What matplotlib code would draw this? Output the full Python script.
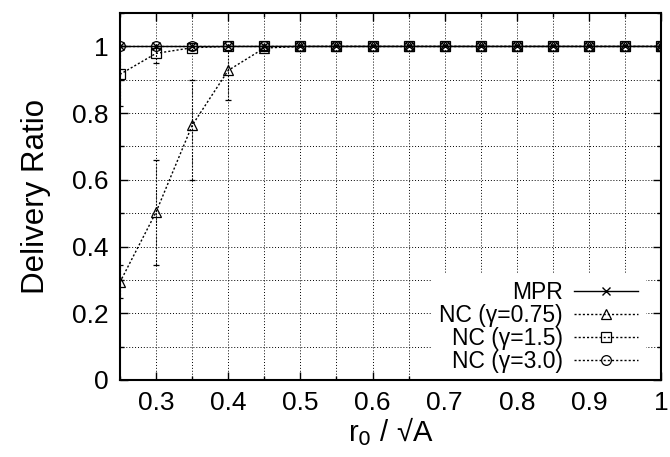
import matplotlib
matplotlib.use("Agg")
import matplotlib.pyplot as plt
from matplotlib.ticker import MultipleLocator

plt.rcParams['font.family'] = ['Liberation Sans', 'DejaVu Sans']

# x positions r0/sqrt(A)
x = [0.25, 0.30, 0.35, 0.40, 0.45, 0.50, 0.55, 0.60, 0.65, 0.70,
     0.75, 0.80, 0.85, 0.90, 0.95, 1.00]

mpr = [1.0] * 16

nc075 = [0.293, 0.503, 0.763, 0.928, 0.995, 1.0, 1.0, 1.0, 1.0, 1.0,
         1.0, 1.0, 1.0, 1.0, 1.0, 1.0]
nc075_lo = [0.246, 0.344, 0.599, 0.840, 0.99, 1.0, 1.0, 1.0, 1.0, 1.0,
            1.0, 1.0, 1.0, 1.0, 1.0, 1.0]
nc075_hi = [0.344, 0.659, 0.898, 0.99, 1.0, 1.0, 1.0, 1.0, 1.0, 1.0,
            1.0, 1.0, 1.0, 1.0, 1.0, 1.0]

nc15 = [0.916, 0.979, 0.996, 1.0, 1.0, 1.0, 1.0, 1.0, 1.0, 1.0,
        1.0, 1.0, 1.0, 1.0, 1.0, 1.0]
nc15_lo = [0.82, 0.95, 0.99, 1.0, 1.0, 1.0, 1.0, 1.0, 1.0, 1.0,
           1.0, 1.0, 1.0, 1.0, 1.0, 1.0]
nc15_hi = [1.0, 1.0, 1.0, 1.0, 1.0, 1.0, 1.0, 1.0, 1.0, 1.0,
           1.0, 1.0, 1.0, 1.0, 1.0, 1.0]

nc30 = [1.0] * 16

fig = plt.figure(figsize=(6.7, 4.57), dpi=100)
ax = fig.add_axes([0.179, 0.1685, 0.808, 0.803])

dot = (0, (1.5, 1.5))

l_mpr, = ax.plot(x, mpr, color='black', lw=1.0, marker='x', ms=6, mew=1.0,
                 label='MPR', zorder=5)

err = [[v - l for v, l in zip(nc075, nc075_lo)],
       [h - v for v, h in zip(nc075, nc075_hi)]]
eb1 = ax.errorbar(x, nc075, yerr=err, color='black', lw=1.0, ls=dot,
                  marker='^', ms=7, mfc='none', mew=0.9, capsize=2,
                  elinewidth=0.8, label='NC (γ=0.75)', zorder=4)
eb1[-1][0].set_linestyle(dot)

err = [[v - l for v, l in zip(nc15, nc15_lo)],
       [h - v for v, h in zip(nc15, nc15_hi)]]
eb2 = ax.errorbar(x, nc15, yerr=err, color='black', lw=1.0, ls=dot,
                  marker='s', ms=7, mfc='none', mew=0.9, capsize=2,
                  elinewidth=0.8, label='NC (γ=1.5)', zorder=4)
eb2[-1][0].set_linestyle(dot)

l_30, = ax.plot(x, nc30, color='black', lw=1.0, ls=dot, marker='o', ms=7,
                mfc='none', mew=0.9, label='NC (γ=3.0)', zorder=4)
ax.plot(x, nc30, ls='none', marker='.', ms=2, color='black', zorder=4)

ax.set_xlim(0.25, 1.0)
ax.set_ylim(0, 1.1)
ax.xaxis.set_minor_locator(MultipleLocator(0.05))
ax.yaxis.set_minor_locator(MultipleLocator(0.1))
ax.set_xticks([0.3, 0.4, 0.5, 0.6, 0.7, 0.8, 0.9, 1.0])
ax.set_xticklabels(['0.3', '0.4', '0.5', '0.6', '0.7', '0.8', '0.9', '1'])
ax.set_yticks([0, 0.2, 0.4, 0.6, 0.8, 1.0])
ax.set_yticklabels(['0', '0.2', '0.4', '0.6', '0.8', '1'])

ax.grid(True, which='both', color='black', ls=(0, (1, 2)), lw=0.7)
ax.tick_params(which='both', direction='in', top=True, right=True,
               labelsize=19, width=1.0)
ax.tick_params(which='major', length=6, pad=8)
ax.tick_params(which='minor', length=3)
for s in ax.spines.values():
    s.set_linewidth(1.5)
    s.set_zorder(12)

ax.set_xlabel('r$_0$ / √A', fontsize=21, labelpad=0)
ax.set_ylabel('Delivery Ratio', fontsize=22.5, labelpad=15)

leg = ax.legend(handles=[l_mpr, eb1[0], eb2[0], l_30],
                labels=['MPR', 'NC (γ=0.75)', 'NC (γ=1.5)', 'NC (γ=3.0)'],
                loc='lower right', bbox_to_anchor=(0.97, 0.0),
                markerfirst=False, fontsize=16.5,
                frameon=True, fancybox=False, framealpha=1.0,
                edgecolor='white', facecolor='white', handlelength=2.8,
                labelspacing=0.0, borderpad=0.3, borderaxespad=0.0,
                handletextpad=0.5)
for t in leg.get_texts():
    t.set_ha('right')
leg.set_zorder(10)

fig.savefig('out.png', dpi=100)
